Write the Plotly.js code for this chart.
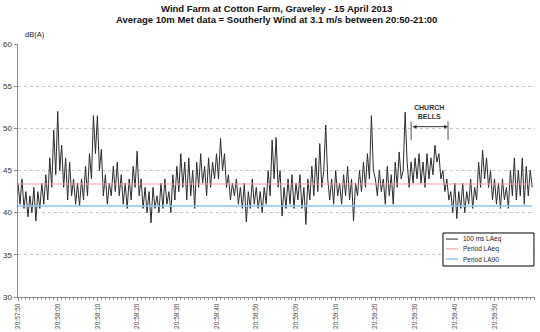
<!DOCTYPE html>
<html>
<head>
<meta charset="utf-8">
<script src="https://cdn.plot.ly/plotly-3.0.1.min.js"></script>
<style>html,body{margin:0;padding:0;background:#fff;}#chart{width:540px;height:332px;}</style>
</head>
<body>
<div id="chart"></div>
<script>
// 100 ms LAeq trace at 0.5 s steps, starting 20:57:50
var startTime = '2013-04-15 20:57:50';
var stepMs = 500;
var laeq_0_10 = [43.5,41,44,40.5,42.5,39.5,42,40,43,39,42.5,40.5,43.5,41,44.5,41.5,46.5,43,49.8,44.5];
var laeq_10_20 = [52,45,48,43,46.5,41.5,46,42,44,41,43.5,40.8,44,41.5,45.5,42,47,44,51.5,47];
var laeq_20_30 = [51.5,45,47.5,42,44.5,41,43.5,42,45.5,42.5,46,42,44.5,41,43.5,40.5,44,41.5,45.5,43];
var laeq_30_40 = [47.3,42,44,40.5,43,40,42.5,38.8,43,40.5,42,40,43.5,40.5,44,41,42.5,40,44.5,41.5];
var laeq_40_50 = [45.5,42.5,47,43,46,41.5,46.5,42,45,40.5,46,43,47,43.5,45.5,42,46.5,43,46,44];
var laeq_50_60 = [47,44,48.8,45,47,43,44.5,41.5,43.5,42,44,41,43,40.5,43.5,38.9,42.5,40.5,44,41];
var laeq_60_70 = [43,40.5,42.5,40,43,41,45,42,48.6,44,48.9,43,45,39.6,43,40.5,44,41,44.5,40.5];
var laeq_70_80 = [43.5,41.5,44.5,40.5,43,38.6,44,41.5,45.5,42,46.5,42.5,48.2,43,45,50.4,44,41.5,44,41];
var laeq_80_90 = [45,42,43.5,41,44.5,42,45.5,41.5,44,39,43.5,42,45,42.5,46,43,47,44,51.5,45];
var laeq_90_100 = [44,42,45,42.5,44,41,45.5,42,44.5,41,46,43,47.2,44,45,51.9,46,43,46,43.5];
var laeq_100_110 = [46.5,44,47,43.5,46,43,47,44,46.5,44.5,48,46,47,44,45,42.5,44,41.5,42.5,40];
var laeq_110_120 = [43.5,39.3,42.5,40.5,43.5,40,42.5,41,44,40.5,43,41.5,46,43,47.4,44,46.5,43,45,41.5];
var laeq_120_130 = [44,41,43.5,40.5,44,41.5,43,40.5,45,42,46.5,41.5,45,42,46.5,41,45.5,42,45,43];

var periodLAeq = 43.4;
var periodLA90 = 40.8;
var yTicks = [30,35,40,45,50,55,60];
var xTickLabels = ['20:57:50','20:58:00','20:58:10','20:58:20','20:58:30','20:58:40','20:58:50',
                   '20:59:00','20:59:10','20:59:20','20:59:30','20:59:40','20:59:50'];
var seriesNames = ['100 ms LAeq','Period LAeq','Period LA90'];
var bellsStart = '2013-04-15 20:59:29';
var bellsEnd = '2013-04-15 20:59:38.3';

var colors = ['#2b2b2b','#f2a0a0','#8cc4f2'];
var widths = [1, 1.2, 1.5];

var laeq = [].concat(laeq_0_10,laeq_10_20,laeq_20_30,laeq_30_40,laeq_40_50,laeq_50_60,
  laeq_60_70,laeq_70_80,laeq_80_90,laeq_90_100,laeq_100_110,laeq_110_120,laeq_120_130);

function pad(n){return (n<10?'0':'')+n;}
var t0 = new Date(startTime.replace(' ','T')+'Z').getTime();
var times = laeq.map(function(v,i){
  var d = new Date(t0 + i*stepMs);
  return '2013-04-15 '+pad(d.getUTCHours())+':'+pad(d.getUTCMinutes())+':'+pad(d.getUTCSeconds())+'.'+Math.floor(d.getUTCMilliseconds()/100);
});
var tFirst = times[0], tLast = times[times.length-1];
var xTickVals = xTickLabels.map(function(s){return '2013-04-15 '+s;});

var traces = [
  {x: times, y: laeq, type:'scatter', mode:'lines', name:seriesNames[0], line:{color:colors[0], width:widths[0]}},
  {x:[tFirst,tLast], y:[periodLAeq,periodLAeq], type:'scatter', mode:'lines', name:seriesNames[1], line:{color:colors[1], width:widths[1]}},
  {x:[tFirst,tLast], y:[periodLA90,periodLA90], type:'scatter', mode:'lines', name:seriesNames[2], line:{color:colors[2], width:widths[2]}}
];

// manual legend (compact like the original)
var legShapes = [{type:'rect', xref:'paper', yref:'paper', x0:0.822, x1:0.998, y0:0.1225, y1:0.253,
  fillcolor:'#fff', line:{color:'#000', width:1}, layer:'above'}];
var legAnn = [];
var rowY = [0.229, 0.190, 0.150];
seriesNames.forEach(function(n,i){
  legShapes.push({type:'line', xref:'paper', yref:'paper', x0:0.828, x1:0.851, y0:rowY[i], y1:rowY[i],
    line:{color:colors[i], width:widths[i]}, layer:'above'});
  legAnn.push({xref:'paper', yref:'paper', x:0.857, y:rowY[i], xanchor:'left', yanchor:'middle', showarrow:false,
    text:n, font:{size:6.5, color:'#222'}});
});

var layout = {
  width:540, height:332,
  margin:{l:18, r:5, t:44, b:35},
  paper_bgcolor:'#fff', plot_bgcolor:'#fff',
  font:{family:'Liberation Sans, Arial, sans-serif', color:'#222'},
  showlegend:false,
  xaxis:{type:'date', range:['2013-04-15 20:57:50','2013-04-15 21:00:00.2'],
    tickvals:xTickVals, ticktext:xTickLabels, tickangle:-90,
    tickfont:{size:6.5, color:'#444'}, ticks:'outside', ticklen:3, tickcolor:'#888',
    minor:{dtick:1000, ticks:'outside', ticklen:2, tickcolor:'#999'},
    showline:true, linecolor:'#888', linewidth:1, showgrid:false, zeroline:false},
  yaxis:{range:[30,60], tickvals:yTicks, ticktext:yTicks.map(String),
    tickfont:{size:8, color:'#333'}, ticks:'outside', ticklen:3, tickcolor:'#888',
    showline:true, linecolor:'#888', linewidth:1.5,
    showgrid:true, gridcolor:'#c4c4c4', griddash:'dot', gridwidth:1, zeroline:false},
  annotations:[
    {xref:'paper', yref:'paper', x:0.5, y:1.142, xanchor:'center', yanchor:'middle', showarrow:false,
     text:'<b>Wind Farm at Cotton Farm, Graveley - 15 April 2013</b>', font:{size:9.5, color:'#111'}},
    {xref:'paper', yref:'paper', x:0.5, y:1.095, xanchor:'center', yanchor:'middle', showarrow:false,
     text:'<b>Average 10m Met data = Southerly Wind at 3.1 m/s between 20:50-21:00</b>', font:{size:9.5, color:'#111'}},
    {xref:'paper', yref:'paper', x:0.01, y:1.012, xanchor:'left', yanchor:'bottom', showarrow:false,
     text:'dB(A)', font:{size:7.5, color:'#222'}},
    {xref:'x', yref:'y', x:'2013-04-15 20:59:33.6', y:50.75, yanchor:'bottom', showarrow:false,
     text:'<b>CHURCH<br>BELLS</b>', font:{size:7, color:'#333'}},
    {xref:'x', yref:'y', axref:'x', ayref:'y', x:bellsEnd, y:50.2, ax:bellsStart, ay:50.2,
     text:'', showarrow:true, arrowhead:2, arrowside:'end+start', arrowsize:0.8, arrowwidth:1, arrowcolor:'#333',
     standoff:0, startstandoff:0}
  ].concat(legAnn),
  shapes:[
    {type:'line', xref:'x', yref:'y', x0:bellsStart, x1:bellsStart, y0:48.6, y1:50.8, line:{color:'#555', width:1}},
    {type:'line', xref:'x', yref:'y', x0:bellsEnd, x1:bellsEnd, y0:48.6, y1:50.8, line:{color:'#555', width:1}}
  ].concat(legShapes)
};
Plotly.newPlot('chart', traces, layout, {displayModeBar:false, staticPlot:true});
</script>
</body>
</html>
